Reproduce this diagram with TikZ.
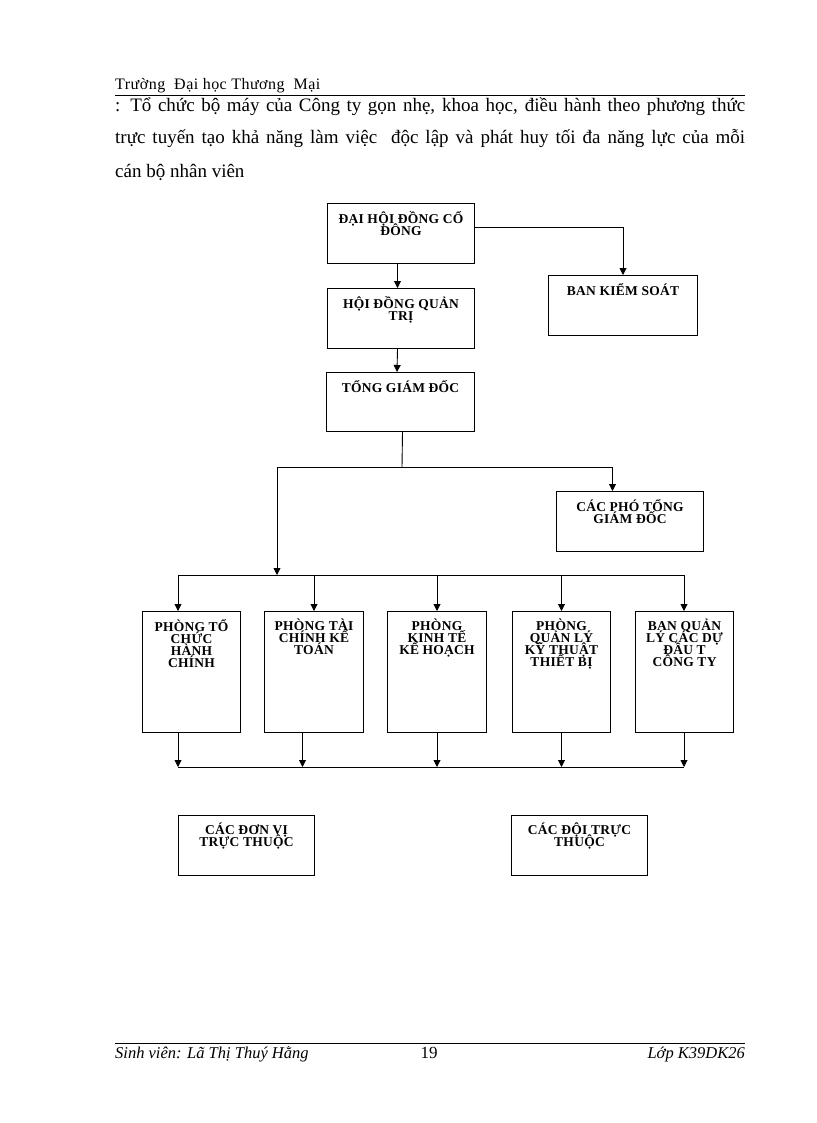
\documentclass[tikz,border=0pt]{standalone}
\usepackage{fontspec}
\setmainfont{Liberation Serif}
\newfontfamily\boxfont[LetterSpace=2]{Liberation Serif}
\newfontfamily\hdrfont[LetterSpace=3]{Liberation Serif}
\usetikzlibrary{arrows.meta}
\newcommand\boxsetup{\boxfont\fontsize{13.5}{12}\selectfont\bfseries\lineskiplimit=-20pt\relax\lineskip=0pt\relax}
\newcommand\orgbox[6]{%
  \node[box, minimum width=#4pt, minimum height=#5pt] (#1) at (#2,#3) {};
  \node[lbl] (#1t) at ([yshift=-8pt]#1.north) {#6};}
\begin{document}
\begin{tikzpicture}[x=1pt,y=-1pt,
  box/.style={draw, line width=1pt, inner sep=0pt, anchor=north west},
  lbl/.style={anchor=north, inner sep=0pt, align=center, font=\boxsetup},
  conn/.style={line width=0.9pt},
  arr/.style={conn, -{Triangle[length=7pt,width=7pt]}},
  txt/.style={anchor=base west, inner sep=0pt},
  rule/.style={line width=0.7pt}]
\useasboundingbox (0,0) rectangle (816,1123);

% header
\node[txt, font=\hdrfont\fontsize{16}{16}\selectfont] (hdr) at (115,90) {Trường\ \ Đại học Thương\ \ Mại};
\draw[rule] (115,95) -- (745,95);
\node[txt, font=\fontsize{19}{19}\selectfont] (l1) at (115,112) {\makebox[630pt][s]{: Tổ chức bộ máy của Công ty gọn nhẹ, khoa học, điều hành theo phương thức}};
\node[txt, font=\fontsize{19}{19}\selectfont] (l2) at (115,144) {\makebox[630pt][s]{trực tuyến tạo khả năng làm việc \ độc lập và phát huy tối đa năng lực của mỗi}};
\node[txt, font=\fontsize{19}{19}\selectfont] (l3) at (115,178) {cán bộ nhân viên};

% boxes
\orgbox{dh}{327}{203}{147}{60}{ĐẠI HỘI ĐỒNG CỔ\\ĐÔNG}
\orgbox{hd}{327}{288}{147}{60}{HỘI ĐỒNG QUẢN\\TRỊ}
\orgbox{bks}{548}{275}{149}{60}{BAN KIỂM SOÁT}
\orgbox{tgd}{326}{372}{148}{59}{TỔNG GIÁM ĐỐC}
\orgbox{cpt}{556}{491}{147}{60}{CÁC PHÓ TỔNG\\GIÁM ĐỐC}
\orgbox{p1}{142}{611}{98}{121}{PHÒNG TỔ\\CHỨC\\HÀNH\\CHÍNH}
\orgbox{p2}{264}{611}{99}{121}{PHÒNG TÀI\\CHÍNH KẾ\\TOÁN}
\orgbox{p3}{387}{611}{99}{121}{PHÒNG\\KINH TẾ\\KẾ HOẠCH}
\orgbox{p4}{512}{611}{98}{121}{PHÒNG\\QUẢN LÝ\\KỸ THUẬT\\THIẾT BỊ}
\orgbox{p5}{635}{611}{98}{121}{BAN QUẢN\\LÝ CÁC DỰ\\ĐẦU T\\CÔNG TY}
\orgbox{dv}{178}{815}{136}{60}{CÁC ĐƠN VỊ\\TRỰC THUỘC}
\orgbox{doi}{511}{815}{136}{60}{CÁC ĐỘI TRỰC\\THUỘC}

% connectors top
\draw[arr] ([xshift=-3.5pt]dh.south) -- ([xshift=-3.5pt]hd.north);
\draw[arr] ([yshift=6pt]dh.east) -| (bks.north);
\draw[arr] ([xshift=-3.5pt]hd.south) -- ([xshift=-3.5pt]tgd.north);

\coordinate (jt) at (402,467);
\coordinate (jl) at (277,467);
\coordinate (jb) at (277,575);
\coordinate (bl) at (178,575);
\coordinate (br) at (684,575);
\draw[conn] ([xshift=2pt]tgd.south) -- (jt);
\draw[arr] (jl) -| ([xshift=-17.5pt]cpt.north);
\draw[arr] (jl) -- (jb);
\draw[conn] (bl) -- (br);
\draw[arr] (bl) -- (bl |- p1.north);
\draw[arr] (p2.north |- bl) -- (p2.north);
\draw[arr] (p3.north |- bl) -- (p3.north);
\draw[arr] (p4.north |- bl) -- (p4.north);
\draw[arr] (br) -- (br |- p5.north);

% bottom bus
\coordinate (cl) at (178,767);
\coordinate (cr) at (684,767);
\draw[conn] (cl) -- (cr);
\draw[arr] (cl |- p1.south) -- (cl);
\draw[arr] ([xshift=-11.5pt]p2.south) -- ([xshift=-11.5pt]p2.south |- cl);
\draw[arr] (p3.south) -- (p3.south |- cl);
\draw[arr] (p4.south) -- (p4.south |- cl);
\draw[arr] (cr |- p5.south) -- (cr);

% footer
\draw[rule] (115,1043) -- (745,1043);
\node[txt, font=\fontsize{16.5}{16.5}\selectfont\itshape] (sv) at (115,1058) {Sinh viên: Lã Thị Thuý Hằng};
\node[anchor=base, inner sep=0pt, font=\fontsize{17}{17}\selectfont] (pg) at (429,1058) {19};
\node[anchor=base east, inner sep=0pt, font=\fontsize{16.5}{16.5}\selectfont\itshape] (lop) at (745,1058) {Lớp K39DK26};
\end{tikzpicture}
\end{document}
